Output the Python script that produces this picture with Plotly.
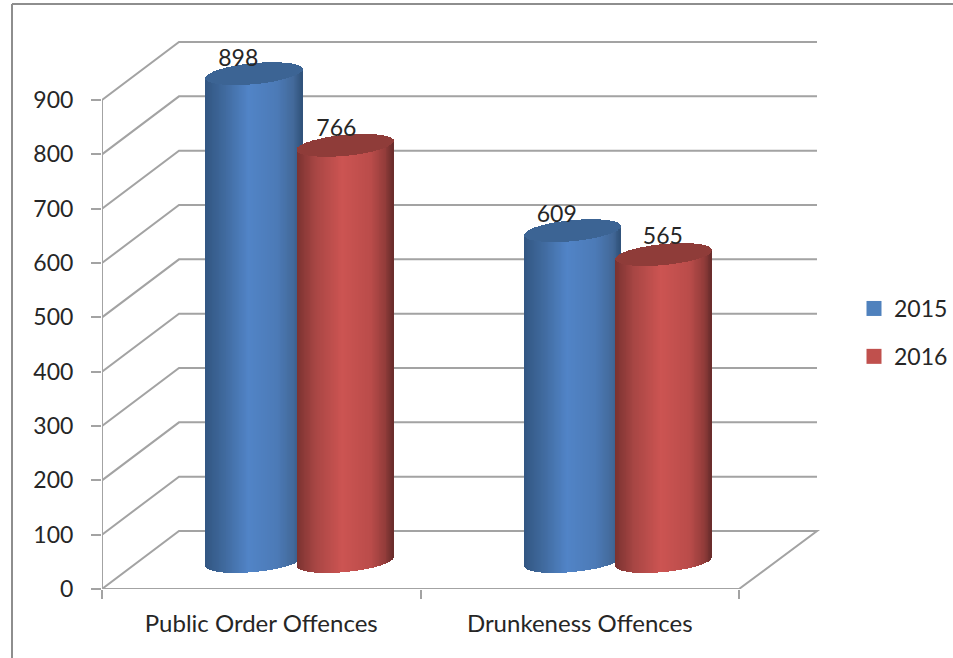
import math
import plotly.graph_objects as go

categories = ["Public Order Offences", "Drunkeness Offences"]
years = ["2015", "2016"]
values_2015 = [898, 609]
values_2016 = [766, 565]
y_ticks = [0, 100, 200, 300, 400, 500, 600, 700, 800, 900]

W, H = 953, 658
PX_X, PX_Y = 318.5, 0.5433
X0_PX, Y0_PX = 102, 589
RIGHT_PX, TOP_PX = 830, 30
GRID = "#a3a3a3"
TEXT = "#262626"
FONT = "Lato"

depth_x, depth_y = 77 / PX_X, 58 / PX_Y
wall_end = (817 - X0_PX) / PX_X
half_w = 48 / PX_X
base_c = 50.6
ell_b = 19.3
ell_s = 8.3
N = 110
series_off = [0.478, 0.764]
label_dx_px = [[-16, -9], [-16, -1]]
label_dy_px = [[13, 15], [14, 16]]
legend_colors = ["#4f81bd", "#c0504d"]
cap_colors = ["#3c6494", "#8f3c39"]
body_stops = [
    [(-1, (50, 86, 130)), (-0.6, (64, 106, 158)), (-0.1, (81, 132, 199)),
     (0.5, (76, 122, 182)), (0.85, (66, 104, 152)), (1, (48, 82, 122))],
    [(-1, (122, 50, 48)), (-0.6, (168, 70, 68)), (-0.05, (204, 84, 82)),
     (0.55, (186, 76, 74)), (0.85, (146, 60, 58)), (1, (104, 44, 43))],
]


def shade(stops, u):
    for (a, ca), (b, cb) in zip(stops, stops[1:]):
        if u <= b:
            t = (u - a) / (b - a)
            r = [round(p + (q - p) * t) for p, q in zip(ca, cb)]
            return f"rgb({r[0]},{r[1]},{r[2]})"
    return f"rgb{stops[-1][1]}"


fig = go.Figure()
all_values = [values_2015, values_2016]

for s, vals in enumerate(all_values):
    bx, bb, bh, bc, cb, ch = [], [], [], [], [], []
    for c, v in enumerate(vals):
        for i in range(N):
            u = -1 + 2 * (i + 0.5) / N
            root = math.sqrt(max(1 - u * u, 0))
            low = base_c + ell_s * u - ell_b * root
            bx.append(c + series_off[s] + u * half_w)
            bb.append(low)
            bh.append(v)
            bc.append(shade(body_stops[s], u))
            cb.append(low + v)
            ch.append(2 * ell_b * root)
    slice_w = 2 * half_w / N * 1.7
    fig.add_trace(go.Bar(x=bx, y=bh, base=bb, width=slice_w,
                         marker=dict(color=bc, line_width=0),
                         showlegend=False, hoverinfo="skip"))
    fig.add_trace(go.Bar(x=bx, y=ch, base=cb, width=slice_w,
                         marker=dict(color=cap_colors[s], line_width=0),
                         showlegend=False, hoverinfo="skip"))

for s, vals in enumerate(all_values):
    fig.add_trace(go.Scatter(
        x=[c + series_off[s] + label_dx_px[c][s] / PX_X for c in range(len(vals))],
        y=[base_c + v + label_dy_px[c][s] / PX_Y for c, v in enumerate(vals)],
        mode="text", text=[str(v) for v in vals], textposition="middle center",
        textfont=dict(family=FONT, size=23, color=TEXT),
        showlegend=False, hoverinfo="skip"))

for s, year in enumerate(years):
    fig.add_trace(go.Scatter(
        x=[None], y=[None], mode="markers", name=year, legendgroup=year,
        marker=dict(symbol="square", size=15, color=legend_colors[s])))

shapes = []
line = dict(color=GRID, width=2)
for t in y_ticks:
    if t == 0:
        p = (f"M 0,0 L {depth_x},{depth_y} L {wall_end},{depth_y} "
             f"L {len(categories)},0 Z")
    else:
        p = f"M 0,{t} L {depth_x},{t + depth_y} L {wall_end},{t + depth_y}"
    shapes.append(dict(type="path", path=p, xref="x", yref="y", layer="below", line=line))
shapes.append(dict(type="line", x0=0, x1=0, y0=0, y1=y_ticks[-1], xref="x", yref="y",
                   layer="below", line=line))
border = dict(color="#8e8e8e", width=2)
shapes.append(dict(type="line", xref="paper", yref="paper", layer="above", line=border,
                   x0=12 / W, x1=12 / W, y0=0, y1=1 - 4 / H))
shapes.append(dict(type="line", xref="paper", yref="paper", layer="above", line=border,
                   x0=12 / W, x1=1, y0=1 - 4 / H, y1=1 - 4 / H))

fig.update_layout(
    width=W, height=H, autosize=False,
    margin=dict(l=0, r=0, t=0, b=0, autoexpand=False),
    paper_bgcolor="white", plot_bgcolor="white",
    barmode="overlay", bargap=0,
    shapes=shapes,
    font=dict(family=FONT, size=23, color=TEXT),
    legend=dict(x=854 / W, y=1 - 287 / H, xanchor="left", yanchor="top",
                tracegroupgap=15, font=dict(family=FONT, size=23, color=TEXT),
                bgcolor="rgba(0,0,0,0)", itemclick=False, itemdoubleclick=False),
    xaxis=dict(domain=[X0_PX / W, RIGHT_PX / W], automargin=False,
               range=[0, (RIGHT_PX - X0_PX) / PX_X],
               tickmode="array", tickvals=[c + 0.5 for c in range(len(categories))],
               ticktext=categories, ticks="", ticklabelstandoff=18,
               tickfont=dict(family=FONT, size=24, color=TEXT),
               showgrid=False, zeroline=False, showline=False,
               minor=dict(tickmode="array", tickvals=list(range(len(categories) + 1)),
                          ticks="outside", ticklen=9, tickwidth=2, tickcolor=GRID,
                          showgrid=False)),
    yaxis=dict(domain=[(H - Y0_PX) / H, (H - TOP_PX) / H], automargin=False,
               range=[0, (Y0_PX - TOP_PX) / PX_Y],
               tickmode="array", tickvals=y_ticks, ticks="outside", ticklen=10,
               tickwidth=2, tickcolor=GRID, ticklabelstandoff=13,
               showgrid=False, zeroline=False, showline=False),
)

fig.write_html("out.html",
               config=dict(displayModeBar=False, responsive=False),
               post_script="document.body.style.margin='0';"
                           "document.documentElement.style.overflow='hidden';")
